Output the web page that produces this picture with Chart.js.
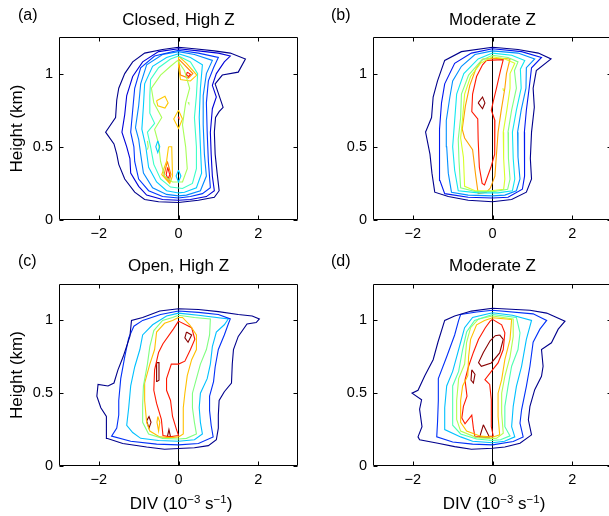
<!DOCTYPE html>
<html><head><meta charset="utf-8">
<script src="https://cdn.jsdelivr.net/npm/chart.js@4/dist/chart.umd.min.js"></script>
<style>
html,body{margin:0;padding:0;background:#fff;overflow:hidden;width:609px;height:516px;}
canvas{position:absolute;}
</style></head><body>
<canvas id="ca" width="305" height="250" style="left:0px;top:0px"></canvas>
<canvas id="cb" width="311" height="250" style="left:305px;top:0px"></canvas>
<canvas id="cc" width="305" height="266" style="left:0px;top:250px"></canvas>
<canvas id="cd" width="311" height="266" style="left:305px;top:250px"></canvas>
<script>
// ---------- axis data ----------
const xTickValues = [-2, 0, 2];
const yTickValues = [0, 0.5, 1];
const xRange = [-3, 3];
const yRange = [0, 1.25];
const zeroLineX = [0, 0];
const zeroLineY = [0, 1.25];
const panelLetters = ['(a)', '(b)', '(c)', '(d)'];
const panelTitles = ['Closed, High Z', 'Moderate Z', 'Open, High Z', 'Moderate Z'];
const yAxisLabel = 'Height (km)';

// ---------- panel (a) contours: [DIV, height] ----------
const A1 = [[0,1.18],[0.4,1.17],[0.9,1.155],[1.3,1.14],[1.68,1.10],[1.5,1.01],[1.1,0.99],[0.92,0.93],[1.12,0.77],[1.02,0.74],[0.93,0.7],[0.9,0.6],[0.92,0.45],[0.97,0.32],[1.02,0.2],[0.9,0.155],[0.5,0.135],[0,0.12],[-0.5,0.125],[-0.85,0.14],[-1.1,0.19],[-1.35,0.28],[-1.5,0.38],[-1.55,0.45],[-1.62,0.52],[-1.83,0.6],[-1.58,0.7],[-1.55,0.82],[-1.5,0.9],[-1.35,1.0],[-1.15,1.08],[-0.85,1.14],[-0.4,1.165],[0,1.18]];
const A2 = [[0,1.17],[0.5,1.155],[1.0,1.14],[1.3,1.12],[1.15,1.08],[0.95,1.0],[0.85,0.92],[0.95,0.84],[0.85,0.76],[0.8,0.6],[0.82,0.45],[0.85,0.3],[0.9,0.2],[0.7,0.16],[0.3,0.14],[0,0.135],[-0.4,0.14],[-0.8,0.17],[-1.0,0.23],[-1.2,0.32],[-1.22,0.42],[-1.3,0.5],[-1.42,0.6],[-1.35,0.72],[-1.3,0.85],[-1.15,0.98],[-0.9,1.08],[-0.5,1.15],[0,1.17]];
const A3 = [[0,1.16],[0.5,1.14],[1.0,1.11],[0.88,1.04],[0.75,0.95],[0.7,0.8],[0.72,0.6],[0.75,0.4],[0.8,0.22],[0.6,0.18],[0.3,0.16],[0,0.15],[-0.4,0.16],[-0.75,0.2],[-1.0,0.28],[-1.1,0.4],[-1.12,0.5],[-1.2,0.6],[-1.15,0.75],[-1.1,0.9],[-0.95,1.04],[-0.6,1.12],[0,1.16]];
const A4 = [[0,1.15],[0.4,1.13],[0.85,1.09],[0.7,1.0],[0.62,0.85],[0.62,0.65],[0.65,0.45],[0.7,0.3],[0.55,0.2],[0.2,0.17],[0,0.165],[-0.3,0.175],[-0.65,0.22],[-0.88,0.32],[-0.95,0.45],[-1.0,0.55],[-1.08,0.63],[-1.0,0.78],[-0.95,0.93],[-0.8,1.06],[-0.4,1.13],[0,1.15]];
const A5 = [[0,1.135],[0.3,1.11],[0.6,1.06],[0.55,0.9],[0.52,0.7],[0.55,0.5],[0.58,0.32],[0.45,0.22],[0.15,0.19],[0,0.185],[-0.3,0.2],[-0.55,0.26],[-0.75,0.36],[-0.82,0.5],[-0.92,0.62],[-0.88,0.78],[-0.85,0.93],[-0.65,1.05],[-0.3,1.11],[0,1.135]];
const A5b = [[-0.52,0.54],[-0.47,0.5],[-0.52,0.46],[-0.57,0.5],[-0.52,0.54]];
const A5c = [[0,0.34],[0.06,0.3],[0,0.26],[-0.06,0.3],[0,0.34]];
const A6 = [[0,1.12],[0.3,1.08],[0.48,1.0],[0.45,0.85],[0.4,0.7],[0.45,0.5],[0.45,0.35],[0.35,0.25],[0.1,0.215],[-0.2,0.225],[-0.45,0.28],[-0.62,0.38],[-0.7,0.5],[-0.78,0.6],[-0.6,0.66],[-0.72,0.73],[-0.72,0.85],[-0.7,0.96],[-0.5,1.04],[-0.2,1.1],[0,1.12]];
const A7 = [[-0.02,1.09],[0.15,1.02],[0.28,0.9],[0.18,0.8],[0.1,0.65],[0.18,0.5],[0.22,0.35],[0.1,0.26],[-0.15,0.26],[-0.35,0.3],[-0.45,0.4],[-0.5,0.52],[-0.6,0.62],[-0.42,0.7],[-0.62,0.8],[-0.68,0.9],[-0.45,0.99],[-0.2,1.05],[-0.02,1.09]];
const A7b = [[-0.78,0.54],[-0.76,0.5],[-0.78,0.48]];
const A7c = [[0.24,0.805],[0.26,0.795]];
const A8a = [[0,1.12],[0.2,1.07],[0.46,0.99],[0.3,0.95],[0.05,0.96],[0,1.05],[0,1.12]];
const A8b = [[-0.55,0.815],[-0.34,0.845],[-0.26,0.8],[-0.34,0.765],[-0.52,0.78],[-0.55,0.815]];
const A8c = [[0,0.75],[0.1,0.69],[0,0.625],[-0.12,0.69],[0,0.75]];
const A8d = [[-0.25,0.5],[-0.17,0.5],[-0.15,0.3],[-0.22,0.25],[-0.42,0.31],[-0.3,0.4],[-0.25,0.5]];
const A9a = [[0,1.1],[0.15,1.06],[0.36,1.0],[0.25,0.97],[0.05,0.99],[0,1.1]];
const A9b = [[-0.28,0.4],[-0.19,0.31],[-0.24,0.26],[-0.37,0.3],[-0.28,0.4]];
const A10a = [[0.22,1.01],[0.3,0.995],[0.25,0.98],[0.2,0.99],[0.22,1.01]];
const A10b = [[-0.27,0.36],[-0.22,0.31],[-0.26,0.28],[-0.31,0.31],[-0.27,0.36]];
const A10c = [[-0.01,0.705],[0.01,0.695]];

// ---------- panel (b) ----------
const B1 = [[0,1.18],[0.64,1.165],[1.15,1.14],[1.47,1.10],[1.1,1.02],[1.02,0.9],[1.05,0.77],[0.98,0.6],[0.95,0.42],[0.98,0.28],[0.85,0.19],[0.48,0.14],[0,0.125],[-0.61,0.135],[-1.11,0.16],[-1.45,0.19],[-1.52,0.32],[-1.57,0.45],[-1.68,0.6],[-1.53,0.7],[-1.49,0.84],[-1.38,0.95],[-1.2,1.09],[-0.78,1.15],[0,1.18]];
const B2 = [[0,1.17],[0.73,1.15],[1.23,1.11],[0.98,1.04],[0.92,0.9],[0.85,0.75],[0.8,0.6],[0.8,0.45],[0.81,0.3],[0.75,0.21],[0.39,0.155],[0,0.15],[-0.61,0.155],[-1.2,0.18],[-1.32,0.27],[-1.32,0.45],[-1.34,0.62],[-1.28,0.8],[-1.2,0.93],[-0.95,1.07],[-0.53,1.14],[0,1.17]];
const B3 = [[0,1.155],[0.64,1.14],[1.06,1.1],[0.85,1.04],[0.84,0.9],[0.72,0.75],[0.63,0.6],[0.64,0.43],[0.69,0.28],[0.6,0.2],[0.31,0.17],[0,0.165],[-0.61,0.17],[-1.03,0.19],[-1.11,0.32],[-1.15,0.5],[-1.16,0.68],[-1.07,0.84],[-1.0,0.95],[-0.78,1.05],[-0.44,1.13],[0,1.155]];
const B4 = [[0,1.14],[0.48,1.125],[0.81,1.09],[0.7,1.03],[0.72,0.9],[0.6,0.75],[0.5,0.6],[0.52,0.42],[0.56,0.28],[0.5,0.2],[0.14,0.185],[-0.36,0.185],[-0.86,0.2],[-0.95,0.34],[-1.0,0.5],[-0.95,0.68],[-0.9,0.86],[-0.72,1.0],[-0.36,1.1],[0,1.14]];
const B5 = [[0,1.125],[0.39,1.11],[0.64,1.08],[0.55,1.02],[0.6,0.9],[0.48,0.75],[0.39,0.6],[0.4,0.42],[0.44,0.28],[0.38,0.21],[0.06,0.195],[-0.44,0.195],[-0.8,0.22],[-0.84,0.4],[-0.86,0.55],[-0.8,0.7],[-0.78,0.86],[-0.6,0.99],[-0.28,1.09],[0,1.125]];
const B6 = [[0,1.115],[0.31,1.1],[0.56,1.07],[0.44,1.0],[0.44,0.9],[0.36,0.75],[0.27,0.6],[0.28,0.42],[0.31,0.28],[0.28,0.21],[-0.03,0.2],[-0.44,0.2],[-0.7,0.23],[-0.73,0.43],[-0.8,0.56],[-0.75,0.7],[-0.7,0.86],[-0.55,0.98],[-0.3,1.07],[0,1.115]];
const B6b = [[0.26,0.9],[0.28,0.88]];
const B7 = [[-0.25,1.10],[0.2,1.105],[0.44,1.1],[0.35,1.0],[0.31,0.9],[0.22,0.75],[0.14,0.6],[0.1,0.45],[0.06,0.3],[-0.05,0.22],[-0.15,0.19],[-0.36,0.18],[-0.42,0.3],[-0.5,0.48],[-0.7,0.56],[-0.76,0.62],[-0.68,0.78],[-0.57,0.92],[-0.42,1.03],[-0.25,1.10]];
const B8 = [[-0.15,1.09],[0.27,1.095],[0.2,1.02],[0.1,0.9],[0.02,0.81],[-0.03,0.75],[0.06,0.68],[0.05,0.55],[0.06,0.45],[-0.04,0.36],[-0.2,0.24],[-0.26,0.25],[-0.33,0.36],[-0.36,0.55],[-0.37,0.69],[-0.52,0.74],[-0.5,0.86],[-0.4,0.98],[-0.25,1.06],[-0.15,1.09]];
const B9 = [[-0.36,0.8],[-0.25,0.84],[-0.19,0.8],[-0.25,0.76],[-0.36,0.8]];

// ---------- panel (c) ----------
const C1 = [[0,1.08],[0.5,1.075],[1.0,1.06],[1.5,1.04],[1.85,1.03],[2.03,1.01],[1.95,0.985],[1.72,0.975],[1.5,0.89],[1.38,0.8],[1.35,0.7],[1.33,0.57],[1.15,0.51],[1.02,0.45],[1.0,0.35],[1.0,0.26],[0.95,0.18],[0.75,0.14],[0.4,0.125],[0,0.12],[-0.35,0.115],[-0.8,0.13],[-1.4,0.155],[-1.8,0.19],[-1.82,0.25],[-1.8,0.34],[-1.95,0.4],[-2.05,0.48],[-2.02,0.56],[-1.77,0.55],[-1.62,0.57],[-1.52,0.66],[-1.39,0.75],[-1.22,0.89],[-1.18,1.0],[-0.9,1.02],[-0.47,1.065],[0,1.08]];
const C2 = [[0,1.065],[0.5,1.055],[1.0,1.04],[1.3,1.01],[1.25,0.975],[1.15,0.9],[1.0,0.8],[0.92,0.68],[0.88,0.58],[0.78,0.48],[0.78,0.38],[0.82,0.28],[0.87,0.2],[0.5,0.155],[0,0.145],[-0.55,0.15],[-1.2,0.17],[-1.68,0.205],[-1.55,0.26],[-1.5,0.35],[-1.5,0.45],[-1.45,0.6],[-1.35,0.75],[-1.25,0.88],[-1.12,0.96],[-0.9,1.0],[-0.45,1.04],[0,1.065]];
const C3 = [[0,1.05],[0.5,1.035],[1.25,1.01],[1.15,0.97],[0.95,0.92],[0.85,0.82],[0.8,0.7],[0.72,0.6],[0.55,0.5],[0.52,0.4],[0.55,0.3],[0.6,0.22],[0.4,0.18],[0,0.17],[-0.5,0.175],[-0.95,0.19],[-1.15,0.23],[-1.3,0.28],[-1.25,0.4],[-1.2,0.55],[-1.1,0.68],[-0.97,0.8],[-0.9,0.9],[-0.65,0.97],[-0.3,1.03],[0,1.05]];
const C4 = [[0,1.035],[0.4,1.02],[0.8,1.01],[0.78,0.9],[0.7,0.8],[0.55,0.7],[0.45,0.6],[0.35,0.5],[0.35,0.4],[0.4,0.3],[0.45,0.22],[0.2,0.19],[0,0.185],[-0.4,0.19],[-0.75,0.22],[-0.9,0.3],[-0.9,0.42],[-0.88,0.55],[-0.78,0.7],[-0.72,0.82],[-0.62,0.93],[-0.4,1.0],[-0.15,1.02],[0,1.035]];
const C5 = [[0,1.02],[0.1,1.02],[0.28,0.97],[0.45,0.9],[0.45,0.8],[0.33,0.73],[0.22,0.62],[0.16,0.5],[0.12,0.4],[0.12,0.3],[0.12,0.22],[0,0.2],[-0.2,0.195],[-0.47,0.2],[-0.72,0.24],[-0.8,0.3],[-0.85,0.45],[-0.85,0.57],[-0.72,0.7],[-0.6,0.8],[-0.55,0.92],[-0.35,0.98],[-0.15,1.0],[0,1.02]];
const C5b = [[-0.52,0.34],[-0.47,0.3],[-0.5,0.24],[-0.54,0.3],[-0.52,0.34]];
const C6 = [[0,0.995],[0.33,0.95],[0.41,0.87],[0.3,0.8],[0.16,0.72],[0,0.70],[-0.18,0.70],[-0.3,0.6],[-0.3,0.52],[-0.2,0.45],[-0.15,0.34],[-0.05,0.25],[0,0.21],[-0.22,0.2],[-0.39,0.21],[-0.43,0.32],[-0.55,0.43],[-0.62,0.52],[-0.6,0.66],[-0.5,0.78],[-0.39,0.84],[-0.13,0.94],[0,0.995]];
const C7a = [[0.2,0.92],[0.33,0.9],[0.24,0.85],[0.16,0.88],[0.2,0.92]];
const C7b = [[-0.55,0.71],[-0.49,0.71],[-0.49,0.59],[-0.54,0.58],[-0.55,0.71]];
const C7c = [[-0.8,0.31],[-0.74,0.34],[-0.69,0.3],[-0.74,0.26],[-0.8,0.31]];
const C7d = [[-0.28,0.2],[-0.24,0.25],[-0.2,0.2],[-0.28,0.2]];

// ---------- panel (d) ----------
const D1 = [[0,1.083],[0.94,1.07],[1.36,1.05],[1.82,0.995],[1.65,0.94],[1.48,0.846],[1.23,0.8],[1.27,0.685],[1.23,0.616],[1.06,0.524],[0.94,0.41],[0.9,0.317],[0.98,0.214],[0.69,0.156],[0.31,0.13],[0,0.122],[-0.53,0.115],[-0.95,0.133],[-1.37,0.156],[-1.83,0.18],[-1.87,0.2],[-1.77,0.27],[-1.83,0.39],[-1.78,0.455],[-2.02,0.5],[-1.87,0.52],[-1.7,0.62],[-1.49,0.73],[-1.37,0.85],[-1.2,1.0],[-0.95,1.03],[-0.53,1.064],[0,1.083]];
const D2 = [[0,1.07],[1.02,1.045],[1.36,1.0],[1.19,0.94],[1.02,0.85],[0.94,0.685],[0.85,0.547],[0.73,0.386],[0.69,0.294],[0.77,0.2],[0.52,0.168],[0,0.145],[-0.5,0.15],[-1.0,0.165],[-1.4,0.2],[-1.38,0.3],[-1.36,0.45],[-1.36,0.6],[-1.15,0.75],[-0.95,0.9],[-0.85,1.0],[-0.8,1.04],[-0.4,1.058],[0,1.07]];
const D3 = [[0,1.053],[0.5,1.035],[0.98,1.0],[0.85,0.87],[0.73,0.685],[0.6,0.547],[0.52,0.41],[0.48,0.27],[0.56,0.2],[0.3,0.17],[0,0.16],[-0.5,0.17],[-0.8,0.2],[-1.2,0.25],[-1.2,0.4],[-1.15,0.55],[-1.0,0.65],[-0.9,0.75],[-0.8,0.85],[-0.7,0.95],[-0.5,1.02],[0,1.053]];
const D4 = [[0,1.04],[0.6,1.02],[0.69,0.915],[0.64,0.8],[0.48,0.685],[0.39,0.547],[0.31,0.41],[0.31,0.27],[0.44,0.207],[0.2,0.18],[0,0.175],[-0.4,0.185],[-0.8,0.22],[-1.0,0.28],[-1.0,0.4],[-1.0,0.55],[-0.85,0.65],[-0.75,0.8],[-0.65,0.92],[-0.45,1.0],[0,1.04]];
const D5 = [[0,1.03],[0.52,1.01],[0.52,0.89],[0.44,0.75],[0.31,0.616],[0.23,0.5],[0.23,0.363],[0.27,0.225],[0.1,0.19],[0,0.188],[-0.4,0.195],[-0.8,0.24],[-0.9,0.32],[-0.9,0.45],[-0.85,0.6],[-0.7,0.7],[-0.65,0.85],[-0.55,0.95],[-0.35,1.01],[0,1.03]];
const D6 = [[0,1.018],[0.48,1.007],[0.44,0.87],[0.31,0.73],[0.23,0.593],[0.14,0.5],[0.14,0.34],[0.18,0.214],[0,0.198],[-0.3,0.205],[-0.65,0.24],[-0.8,0.3],[-0.8,0.45],[-0.75,0.55],[-0.62,0.62],[-0.6,0.75],[-0.55,0.87],[-0.4,0.97],[-0.2,1.0],[0,1.018]];
const D7 = [[0,1.007],[0.23,0.97],[0.31,0.915],[0.27,0.8],[0.14,0.708],[0,0.66],[-0.19,0.593],[-0.07,0.56],[-0.03,0.455],[-0.03,0.27],[0.02,0.205],[-0.18,0.2],[-0.44,0.2],[-0.48,0.26],[-0.52,0.35],[-0.69,0.29],[-0.77,0.33],[-0.73,0.41],[-0.64,0.48],[-0.69,0.59],[-0.6,0.685],[-0.48,0.78],[-0.35,0.87],[-0.18,0.95],[-0.06,0.995],[0,1.007]];
const D8a = [[0.18,0.9],[0.27,0.87],[0.18,0.777],[-0.03,0.708],[-0.28,0.685],[-0.35,0.71],[-0.23,0.78],[-0.06,0.86],[0.07,0.895],[0.18,0.9]];
const D8b = [[-0.52,0.66],[-0.44,0.63],[-0.48,0.57],[-0.54,0.59],[-0.52,0.66]];
const D8c = [[-0.23,0.283],[-0.08,0.2],[-0.32,0.2],[-0.23,0.283]];

// ---------- contour level of each curve ----------
const panelACurves = [[0,A1],[1,A2],[2,A3],[3,A4],[4,A5],[4,A5b],[4,A5c],[5,A6],[6,A7],[6,A7b],[6,A7c],[7,A8a],[7,A8b],[7,A8c],[7,A8d],[8,A9a],[8,A9b],[9,A10a],[9,A10b],[9,A10c]];
const panelBCurves = [[0,B1],[1,B2],[2,B3],[3,B4],[4,B5],[5,B6],[5,B6b],[6,B7],[7,B8],[8,B9]];
const panelCCurves = [[0,C1],[1,C2],[2,C3],[3,C4],[4,C5],[4,C5b],[5,C6],[6,C7a],[6,C7b],[6,C7c],[6,C7d]];
const panelDCurves = [[0,D1],[1,D2],[2,D3],[3,D4],[4,D5],[5,D6],[6,D7],[7,D8a],[7,D8b],[7,D8c]];

// ---------- styles ----------
const colorsA = ['#00008C','#0000D8','#0038FF','#0088FF','#00CCFF','#3CFFC8','#A8FF58','#FFC800','#FF8000','#FF1800'];
const colorsB = ['#00008C','#0018F0','#0090FF','#10E8F0','#80FF80','#D8FF28','#FFA000','#FF1800','#880000'];
const colorsC = ['#00008C','#0030F8','#00C0FF','#80FF80','#FFC000','#FF1800','#880000'];
const colorsD = ['#00008C','#0030F8','#00C0FF','#50FFB0','#B0FF50','#FFC000','#FF1800','#880000'];
const FONT = '"Liberation Sans", Arial, Helvetica, sans-serif';

function fmtTick(v){ return v < 0 ? '\u2212' + Math.abs(v) : String(v); }

function buildDatasets(curves, colors){
  const ds = curves.map(([lvl, pts]) => ({
    data: pts.map(p => ({x:p[0], y:p[1]})),
    showLine:true, borderColor: colors[lvl], borderWidth:1.1,
    pointRadius:0, pointHoverRadius:0, fill:false, tension:0
  }));
  ds.push({data: zeroLineX.map((x,i)=>({x:x, y:zeroLineY[i]})), showLine:true,
    borderColor:'#000', borderWidth:1, pointRadius:0, fill:false});
  return ds;
}

const boxPlugin = {
  id:'box',
  afterDatasetsDraw(chart){
    const {ctx, chartArea:a, scales:{x, y}} = chart;
    ctx.save();
    ctx.strokeStyle = '#000'; ctx.lineWidth = 1;
    ctx.beginPath();
    const L = Math.round(a.left)+0.5, R = Math.round(a.right)-0.5, T = Math.round(a.top)+0.5, B = Math.round(a.bottom)-0.5;
    ctx.rect(L, T, R-L, B-T);
    const tl = 4;
    xTickValues.forEach(v => { const px = Math.round(x.getPixelForValue(v))+0.5;
      ctx.moveTo(px, B); ctx.lineTo(px, B-tl); ctx.moveTo(px, T); ctx.lineTo(px, T+tl); });
    yTickValues.forEach(v => { const py = Math.round(y.getPixelForValue(v))+0.5;
      ctx.moveTo(L, py); ctx.lineTo(L+tl, py); ctx.moveTo(R, py); ctx.lineTo(R-tl, py); });
    ctx.stroke();
    ctx.restore();
  }
};

function textPlugin(cfg){
  return {
    id:'texts',
    afterDraw(chart){
      const ctx = chart.ctx;
      ctx.save();
      ctx.fillStyle = '#000';
      ctx.font = '16px ' + FONT;
      ctx.textAlign = 'left'; ctx.textBaseline = 'alphabetic';
      ctx.fillText(cfg.letter, cfg.letterX - cfg.ox, cfg.letterY - cfg.oy);
      ctx.font = '17px ' + FONT;
      ctx.textAlign = 'center';
      ctx.fillText(cfg.title, cfg.titleX - cfg.ox, cfg.titleY - cfg.oy);
      if (cfg.ylabel){
        ctx.save();
        ctx.translate(cfg.ylabX - cfg.ox, cfg.ylabY - cfg.oy);
        ctx.rotate(-Math.PI/2);
        ctx.font = '17px ' + FONT;
        ctx.textAlign = 'center'; ctx.textBaseline = 'middle';
        ctx.fillText(yAxisLabel, 0, 0);
        ctx.restore();
      }
      if (cfg.xlabel){
        const big = '17px ' + FONT, small = '11.5px ' + FONT;
        const parts = [['DIV (10', big, 0], ['\u22123', small, -6.5], [' s', big, 0], ['\u22121', small, -6.5], [')', big, 0]];
        let w = 0;
        parts.forEach(p => { ctx.font = p[1]; w += ctx.measureText(p[0]).width; });
        let x0 = cfg.xlabX - cfg.ox - w/2;
        ctx.textAlign = 'left'; ctx.textBaseline = 'alphabetic';
        parts.forEach(p => { ctx.font = p[1]; ctx.fillText(p[0], x0, cfg.xlabY - cfg.oy + p[2]); x0 += ctx.measureText(p[0]).width; });
      }
      ctx.restore();
    }
  };
}

function makePanel(id, curves, colors, geom, cfg){
  const ctx = document.getElementById(id).getContext('2d');
  return new Chart(ctx, {
    type:'scatter',
    data:{datasets: buildDatasets(curves, colors)},
    options:{
      responsive:false, animation:false, devicePixelRatio:1,
      layout:{autoPadding:false, padding:{left:0, top:geom.padTop, right:geom.padRight, bottom:0}},
      plugins:{legend:{display:false}, tooltip:{enabled:false}, title:{display:false}},
      events:[],
      scales:{
        x:{type:'linear', min:xRange[0], max:xRange[1],
          afterBuildTicks: s => { s.ticks = xTickValues.map(v => ({value:v})); },
          afterFit: s => { s.height = geom.xh; s.paddingLeft = 0; s.paddingRight = 0; },
          ticks:{callback: fmtTick, color:'#000', font:{family:FONT, size:14.5}, padding:5, maxRotation:0, autoSkip:false},
          grid:{display:false, drawTicks:false}, border:{display:false}},
        y:{type:'linear', min:yRange[0], max:yRange[1],
          afterBuildTicks: s => { s.ticks = yTickValues.map(v => ({value:v})); },
          afterFit: s => { s.width = geom.yw; s.paddingTop = 0; s.paddingBottom = 0; },
          ticks:{callback: fmtTick, color:'#000', font:{family:FONT, size:14.5}, padding:6, autoSkip:false},
          grid:{display:false, drawTicks:false}, border:{display:false}}
      }
    },
    plugins:[boxPlugin, textPlugin(cfg)]
  });
}

makePanel('ca', panelACurves, colorsA, {padTop:37, padRight:7, xh:30, yw:59},
  {ox:0, oy:0, letter:panelLetters[0], letterX:18, letterY:20, title:panelTitles[0], titleX:178.5, titleY:24.5, ylabel:true, ylabX:17, ylabY:128.5});
makePanel('cb', panelBCurves, colorsB, {padTop:37, padRight:4, xh:30, yw:68},
  {ox:305, oy:0, letter:panelLetters[1], letterX:331, letterY:20, title:panelTitles[1], titleX:492.5, titleY:24.5});
makePanel('cc', panelCCurves, colorsC, {padTop:34, padRight:7, xh:50, yw:59},
  {ox:0, oy:250, letter:panelLetters[2], letterX:18, letterY:266, title:panelTitles[2], titleX:178.5, titleY:271, ylabel:true, ylabX:17, ylabY:375, xlabel:true, xlabX:181, xlabY:509});
makePanel('cd', panelDCurves, colorsD, {padTop:34, padRight:4, xh:50, yw:68},
  {ox:305, oy:250, letter:panelLetters[3], letterX:331, letterY:266, title:panelTitles[3], titleX:492.5, titleY:271, xlabel:true, xlabX:494, xlabY:509});
</script>
</body></html>
